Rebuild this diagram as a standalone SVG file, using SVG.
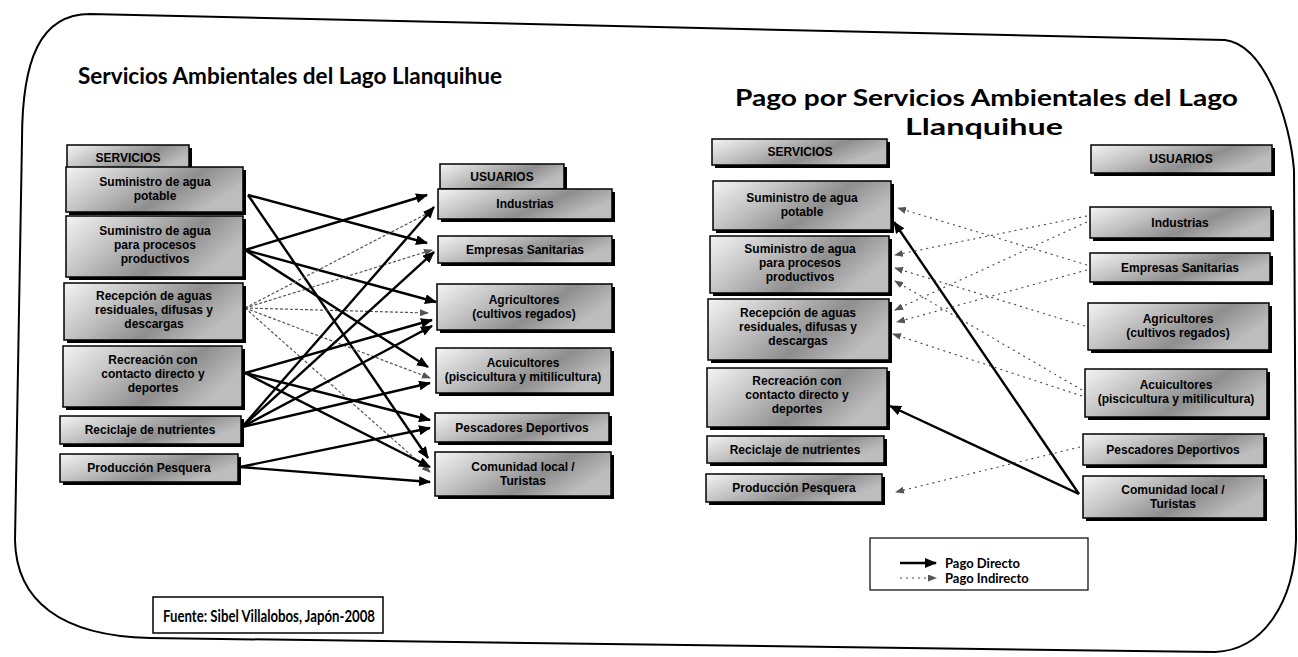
<svg xmlns="http://www.w3.org/2000/svg" width="1298" height="657" viewBox="0 0 1298 657">
<defs>
<linearGradient id="g" x1="0" y1="0" x2="1" y2="0.4">
<stop offset="0" stop-color="#f4f4f4"/>
<stop offset="0.35" stop-color="#c4c4c4"/>
<stop offset="0.7" stop-color="#8e8e8e"/>
<stop offset="1" stop-color="#bdbdbd"/>
</linearGradient>
<marker id="ah" markerUnits="userSpaceOnUse" markerWidth="12" markerHeight="10" refX="11" refY="5" orient="auto">
<path d="M0,0 L12,5 L0,10 Z" fill="#000"/>
</marker>
<marker id="ahg" markerUnits="userSpaceOnUse" markerWidth="9" markerHeight="7" refX="8" refY="3.5" orient="auto">
<path d="M0,0 L9,3.5 L0,7 Z" fill="#555"/>
</marker>
</defs>
<style>
.sh{fill:#000}
.bx{fill:url(#g);stroke:#000;stroke-width:1.5}
.t{font-family:"Liberation Sans",Arial,sans-serif;font-weight:bold;font-size:12px;fill:#000;text-anchor:middle}
.ttl{font-family:"Lato","Liberation Sans",sans-serif;font-weight:bold;font-size:22px;fill:#000}
.s{stroke:#000;stroke-width:2.4;fill:none;marker-end:url(#ah)}
.g{stroke:#555;stroke-width:1.2;fill:none;stroke-dasharray:3 2;marker-end:url(#ahg)}
.d{stroke:#444;stroke-width:1.1;fill:none;stroke-dasharray:2 4;marker-end:url(#ahg)}
.lg{font-family:"Lato","Liberation Sans",sans-serif;font-weight:bold;font-size:13px;fill:#000}
</style>
<path id="frame" d="M22,140 C22,60 40,14 90,14 L1225,40 C1265,45 1290,120 1294,170 L1296,540 C1294,600 1265,650 1215,652 L150,638 C60,636 16,600 15,540 Z" fill="none" stroke="#000" stroke-width="2"/>
<text class="ttl" x="78" y="84" textLength="424" lengthAdjust="spacingAndGlyphs">Servicios Ambientales del Lago Llanquihue</text>
<text class="ttl" x="735" y="106" textLength="503" lengthAdjust="spacingAndGlyphs">Pago por Servicios Ambientales del Lago</text>
<text class="ttl" x="905" y="135" textLength="158" lengthAdjust="spacingAndGlyphs">Llanquihue</text>

<g id="connectors">
<line class="s" x1="248" y1="195" x2="427" y2="243"/>
<line class="s" x1="248" y1="195" x2="428" y2="458"/>
<line class="s" x1="245" y1="250" x2="427" y2="195"/>
<line class="s" x1="245" y1="250" x2="436" y2="302"/>
<line class="s" x1="245" y1="250" x2="428" y2="367"/>
<line class="g" x1="245" y1="308" x2="432" y2="211"/>
<line class="g" x1="245" y1="308" x2="432" y2="250"/>
<line class="g" x1="245" y1="308" x2="428" y2="313"/>
<line class="g" x1="245" y1="308" x2="430" y2="378"/>
<line class="g" x1="245" y1="308" x2="430" y2="472"/>
<line class="s" x1="245" y1="373" x2="432" y2="320"/>
<line class="s" x1="245" y1="373" x2="430" y2="420"/>
<line class="s" x1="245" y1="373" x2="430" y2="467"/>
<line class="s" x1="242" y1="427" x2="434" y2="207"/>
<line class="s" x1="242" y1="427" x2="434" y2="252"/>
<line class="s" x1="242" y1="427" x2="432" y2="326"/>
<line class="s" x1="242" y1="427" x2="430" y2="383"/>
<line class="s" x1="240" y1="467" x2="430" y2="428"/>
<line class="s" x1="240" y1="467" x2="430" y2="482"/>

<line class="s" x1="1079" y1="494" x2="894" y2="222"/>
<line class="s" x1="1079" y1="494" x2="890" y2="406"/>
<line class="d" x1="1087" y1="265" x2="898" y2="208"/>
<line class="d" x1="1087" y1="216" x2="895" y2="255"/>
<line class="d" x1="1087" y1="222" x2="895" y2="310"/>
<line class="d" x1="1085" y1="326" x2="895" y2="268"/>
<line class="d" x1="1082" y1="390" x2="895" y2="281"/>
<line class="d" x1="1087" y1="270" x2="897" y2="322"/>
<line class="d" x1="1082" y1="396" x2="893" y2="334"/>
<line class="d" x1="1080" y1="447" x2="896" y2="492"/>
</g>

<g id="l-serv-h"><rect class="sh" x="70" y="148" width="122" height="26"/><rect class="bx" x="67" y="145" width="122" height="26"/><text class="t" x="128" y="162">SERVICIOS</text></g>
<g id="l-usu-h"><rect class="sh" x="443" y="167" width="124" height="25"/><rect class="bx" x="440" y="164" width="124" height="25"/><text class="t" x="502" y="181">USUARIOS</text></g>

<g id="l-s1"><rect class="sh" x="69" y="170" width="177" height="45"/><rect class="bx" x="66" y="167" width="177" height="45"/><text class="t" x="155" y="186">Suministro de agua</text><text class="t" x="155" y="200">potable</text></g>
<g id="l-s2"><rect class="sh" x="69" y="219" width="177" height="61"/><rect class="bx" x="66" y="216" width="177" height="61"/><text class="t" x="155" y="235">Suministro de agua</text><text class="t" x="155" y="249">para procesos</text><text class="t" x="155" y="263">productivos</text></g>
<g id="l-s3"><rect class="sh" x="67" y="286" width="179" height="57"/><rect class="bx" x="64" y="283" width="179" height="57"/><text class="t" x="154" y="300">Recepción de aguas</text><text class="t" x="154" y="314">residuales, difusas y</text><text class="t" x="154" y="328">descargas</text></g>
<g id="l-s4"><rect class="sh" x="66" y="349" width="179" height="61"/><rect class="bx" x="63" y="346" width="179" height="61"/><text class="t" x="153" y="364">Recreación con</text><text class="t" x="153" y="378">contacto directo y</text><text class="t" x="153" y="392">deportes</text></g>
<g id="l-s5"><rect class="sh" x="63" y="419" width="181" height="28"/><rect class="bx" x="60" y="416" width="181" height="28"/><text class="t" x="150" y="434">Reciclaje de nutrientes</text></g>
<g id="l-s6"><rect class="sh" x="63" y="457" width="178" height="28"/><rect class="bx" x="60" y="454" width="178" height="28"/><text class="t" x="149" y="472">Producción Pesquera</text></g>

<g id="l-u1"><rect class="sh" x="441" y="192" width="174" height="30"/><rect class="bx" x="438" y="189" width="174" height="30"/><text class="t" x="525" y="208">Industrias</text></g>
<g id="l-u2"><rect class="sh" x="441" y="239" width="174" height="27"/><rect class="bx" x="438" y="236" width="174" height="27"/><text class="t" x="525" y="254">Empresas Sanitarias</text></g>
<g id="l-u3"><rect class="sh" x="440" y="287" width="175" height="46"/><rect class="bx" x="437" y="284" width="175" height="46"/><text class="t" x="524" y="304">Agricultores</text><text class="t" x="524" y="318">(cultivos regados)</text></g>
<g id="l-u4"><rect class="sh" x="439" y="351" width="175" height="45"/><rect class="bx" x="436" y="348" width="175" height="45"/><text class="t" x="523" y="367">Acuicultores</text><text class="t" x="523" y="381">(piscicultura y mitilicultura)</text></g>
<g id="l-u5"><rect class="sh" x="438" y="416" width="174" height="29"/><rect class="bx" x="435" y="413" width="174" height="29"/><text class="t" x="522" y="432">Pescadores Deportivos</text></g>
<g id="l-u6"><rect class="sh" x="438" y="455" width="176" height="44"/><rect class="bx" x="435" y="452" width="176" height="44"/><text class="t" x="523" y="471">Comunidad local /</text><text class="t" x="523" y="485">Turistas</text></g>

<g id="r-serv-h"><rect class="sh" x="715" y="142" width="175" height="26"/><rect class="bx" x="712" y="139" width="175" height="26"/><text class="t" x="800" y="156">SERVICIOS</text></g>
<g id="r-usu-h"><rect class="sh" x="1094" y="148" width="181" height="28"/><rect class="bx" x="1091" y="145" width="181" height="28"/><text class="t" x="1181" y="163">USUARIOS</text></g>

<g id="r-s1"><rect class="sh" x="716" y="184" width="178" height="49"/><rect class="bx" x="713" y="181" width="178" height="49"/><text class="t" x="802" y="202">Suministro de agua</text><text class="t" x="802" y="216">potable</text></g>
<g id="r-s2"><rect class="sh" x="713" y="239" width="179" height="57"/><rect class="bx" x="710" y="236" width="179" height="57"/><text class="t" x="800" y="253">Suministro de agua</text><text class="t" x="800" y="267">para procesos</text><text class="t" x="800" y="281">productivos</text></g>
<g id="r-s3"><rect class="sh" x="711" y="302" width="181" height="61"/><rect class="bx" x="708" y="299" width="181" height="61"/><text class="t" x="798" y="317">Recepción de aguas</text><text class="t" x="798" y="331">residuales, difusas y</text><text class="t" x="798" y="345">descargas</text></g>
<g id="r-s4"><rect class="sh" x="710" y="371" width="180" height="59"/><rect class="bx" x="707" y="368" width="180" height="59"/><text class="t" x="797" y="385">Recreación con</text><text class="t" x="797" y="399">contacto directo y</text><text class="t" x="797" y="413">deportes</text></g>
<g id="r-s5"><rect class="sh" x="710" y="439" width="177" height="27"/><rect class="bx" x="707" y="436" width="177" height="27"/><text class="t" x="795" y="454">Reciclaje de nutrientes</text></g>
<g id="r-s6"><rect class="sh" x="709" y="477" width="176" height="28"/><rect class="bx" x="706" y="474" width="176" height="28"/><text class="t" x="794" y="492">Producción Pesquera</text></g>

<g id="r-u1"><rect class="sh" x="1093" y="210" width="181" height="31"/><rect class="bx" x="1090" y="207" width="181" height="31"/><text class="t" x="1180" y="227">Industrias</text></g>
<g id="r-u2"><rect class="sh" x="1093" y="256" width="180" height="29"/><rect class="bx" x="1090" y="253" width="180" height="29"/><text class="t" x="1180" y="272">Empresas Sanitarias</text></g>
<g id="r-u3"><rect class="sh" x="1091" y="306" width="181" height="47"/><rect class="bx" x="1088" y="303" width="181" height="47"/><text class="t" x="1178" y="323">Agricultores</text><text class="t" x="1178" y="337">(cultivos regados)</text></g>
<g id="r-u4"><rect class="sh" x="1088" y="372" width="182" height="48"/><rect class="bx" x="1085" y="369" width="182" height="48"/><text class="t" x="1176" y="389">Acuicultores</text><text class="t" x="1176" y="403">(piscicultura y mitilicultura)</text></g>
<g id="r-u5"><rect class="sh" x="1086" y="437" width="181" height="31"/><rect class="bx" x="1083" y="434" width="181" height="31"/><text class="t" x="1173" y="454">Pescadores Deportivos</text></g>
<g id="r-u6"><rect class="sh" x="1086" y="479" width="181" height="42"/><rect class="bx" x="1083" y="476" width="181" height="42"/><text class="t" x="1173" y="494">Comunidad local /</text><text class="t" x="1173" y="508">Turistas</text></g>

<g id="legend">
<rect x="870" y="538" width="218" height="52" fill="#fff" stroke="#000" stroke-width="1.2"/>
<line x1="900" y1="563" x2="936" y2="563" stroke="#000" stroke-width="2.4" marker-end="url(#ah)"/>
<line x1="900" y1="578" x2="936" y2="578" stroke="#444" stroke-width="1.1" stroke-dasharray="2 4" marker-end="url(#ahg)"/>
<text class="lg" x="945" y="568">Pago Directo</text>
<text class="lg" x="945" y="583">Pago Indirecto</text>
</g>

<g id="source">
<rect x="153" y="597" width="230" height="36" fill="#fff" stroke="#000" stroke-width="1.5"/>
<text x="163" y="622" font-family="Lato, 'Liberation Sans', sans-serif" font-weight="bold" font-size="17" textLength="212" lengthAdjust="spacingAndGlyphs">Fuente: Sibel Villalobos, Japón-2008</text>
</g>
</svg>
